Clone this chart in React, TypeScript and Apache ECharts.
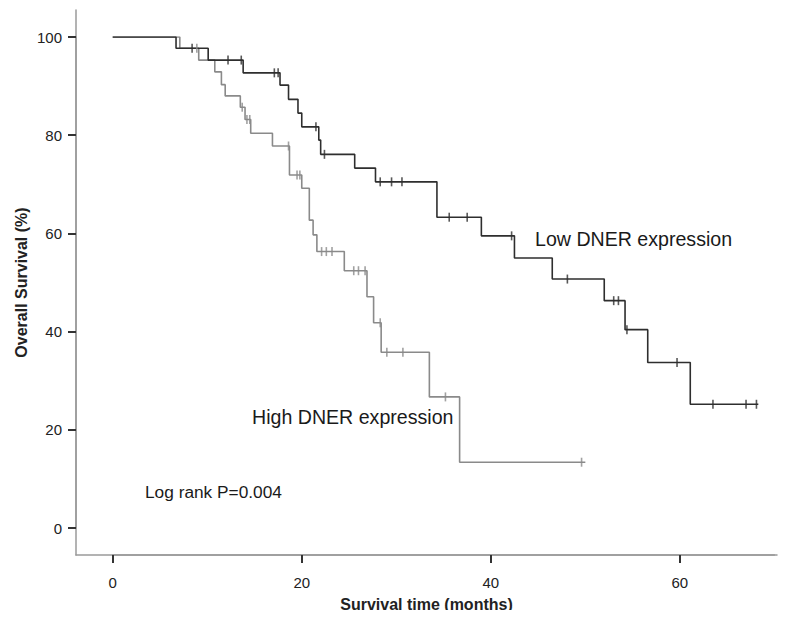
import React, { useEffect, useRef } from "react";
import * as echarts from "echarts";

// Kaplan-Meier step points [months, survival %]
const lowCurve: [number, number][] = [
  [0, 100], [6.7, 97.7], [10.1, 95.3], [13.8, 92.7], [17.7, 90.2], [18.6, 87.3],
  [19.6, 84.5], [20.0, 81.7], [21.8, 79.0], [22.0, 76.1], [25.6, 73.3], [27.8, 70.5],
  [34.3, 63.3], [39.0, 59.5], [42.5, 55.0], [46.5, 50.7], [52.0, 46.3], [54.2, 40.4],
  [56.6, 33.7], [61.1, 25.2], [68.3, 25.2],
];
const lowCensored: [number, number][] = [
  [8.4, 97.7], [12.2, 95.3], [13.6, 95.3], [17.1, 92.7], [17.5, 92.7], [21.5, 81.7],
  [22.4, 76.1], [28.3, 70.5], [29.5, 70.5], [30.6, 70.5], [35.6, 63.3], [37.5, 63.3],
  [42.2, 59.5], [48.1, 50.7], [53.0, 46.3], [53.5, 46.3], [54.4, 40.4], [59.7, 33.7],
  [63.5, 25.2], [67.0, 25.2], [68.1, 25.2],
];
const highCurve: [number, number][] = [
  [0, 100], [7.1, 97.7], [9.1, 95.3], [10.8, 92.9], [11.5, 90.3], [11.9, 88.0],
  [13.5, 85.7], [14.0, 83.2], [14.6, 80.4], [16.9, 77.8], [18.7, 71.9], [20.0, 69.2],
  [20.8, 62.7], [21.2, 59.7], [21.6, 56.3], [24.5, 52.4], [26.9, 47.1], [27.6, 41.8],
  [28.4, 35.8], [33.5, 26.7], [36.7, 13.4], [50.0, 13.4],
];
const highCensored: [number, number][] = [
  [8.9, 97.7], [13.7, 85.7], [14.2, 83.2], [14.5, 83.2], [18.6, 77.8], [19.5, 71.9],
  [19.8, 71.9], [22.1, 56.3], [22.6, 56.3], [23.2, 56.3], [25.5, 52.4], [26.0, 52.4],
  [26.7, 52.4], [28.3, 41.8], [29.0, 35.8], [30.7, 35.8], [35.2, 26.7], [49.6, 13.4],
];
// tick layout: x ticks every 20 months, y ticks every 20 %
const xTickStep = 20;
const xScaleMax = 70;
const yTickStep = 20;
const yScaleMax = 100;

const FONT = "'Liberation Sans', Arial, Helvetica, sans-serif";
const DARK = "#2e2e2e";
const GRAY = "#8a8a8a";
const AXIS_GRAY = "#9a9a9a";

export default function App() {
  const ref = useRef<HTMLDivElement>(null);
  useEffect(() => {
    if (!ref.current) return;
    const chart = echarts.init(ref.current, null, { renderer: "svg" });
    const frameLine = () => ({ show: true, onZero: false, lineStyle: { color: AXIS_GRAY, width: 1.5 } });
    const labelStyle = () => ({ color: "#222", fontSize: 15, fontFamily: FONT });
    const nameStyle = () => ({ fontSize: 16, fontWeight: "bold", color: "#222", fontFamily: FONT });
    chart.setOption({
      animation: false,
      backgroundColor: "#ffffff",
      grid: [
        // frame grid: the L-shaped axis lines
        { left: 76, right: 32, top: 10, bottom: 63 },
        // data grid: 0..70 months, 0..100 %
        { left: 112.7, right: 34.6, top: 37, bottom: 90 },
      ],
      xAxis: [
        {
          gridIndex: 0,
          type: "value",
          min: 0,
          max: 1,
          axisLine: frameLine(),
          axisTick: { show: false },
          axisLabel: { show: false },
          splitLine: { show: false },
          name: "Survival time (months)",
          nameLocation: "middle",
          nameGap: 41,
          nameTextStyle: nameStyle(),
        },
        {
          gridIndex: 1,
          type: "value",
          min: 0,
          max: xScaleMax,
          interval: xTickStep,
          offset: 27,
          axisLine: { show: true, onZero: false, lineStyle: { color: AXIS_GRAY, width: 1.5 } },
          axisTick: { show: true, length: 8, lineStyle: { color: "#333", width: 2 } },
          axisLabel: { ...labelStyle(), margin: 20, showMaxLabel: false },
          splitLine: { show: true, lineStyle: { color: "rgba(0,0,0,0)" } },
        },
      ],
      yAxis: [
        {
          gridIndex: 0,
          type: "value",
          min: 0,
          max: 1,
          axisLine: frameLine(),
          axisTick: { show: false },
          axisLabel: { show: false },
          splitLine: { show: false },
          name: "Overall Survival (%)",
          nameLocation: "middle",
          nameGap: 47,
          nameTextStyle: nameStyle(),
        },
        {
          gridIndex: 1,
          type: "value",
          min: 0,
          max: yScaleMax,
          interval: yTickStep,
          offset: 36.7,
          axisLine: { show: true, onZero: false, lineStyle: { color: AXIS_GRAY, width: 1.5 } },
          axisTick: { show: true, length: 8, lineStyle: { color: "#333", width: 2 } },
          axisLabel: { ...labelStyle(), margin: 14 },
          splitLine: { show: false },
        },
      ],
      series: [
        {
          name: "Low DNER expression",
          type: "line",
          xAxisIndex: 1,
          yAxisIndex: 1,
          step: "end",
          data: lowCurve,
          showSymbol: false,
          lineStyle: { color: DARK, width: 1.6 },
          z: 3,
        },
        {
          name: "High DNER expression",
          type: "line",
          xAxisIndex: 1,
          yAxisIndex: 1,
          step: "end",
          data: highCurve,
          showSymbol: false,
          lineStyle: { color: GRAY, width: 1.6 },
          z: 2,
        },
        {
          name: "Low censored",
          type: "scatter",
          xAxisIndex: 1,
          yAxisIndex: 1,
          data: lowCensored,
          symbol: "rect",
          symbolSize: [1.6, 9],
          itemStyle: { color: DARK },
          z: 4,
        },
        {
          name: "High censored",
          type: "scatter",
          xAxisIndex: 1,
          yAxisIndex: 1,
          data: highCensored,
          symbol: "rect",
          symbolSize: [1.6, 9],
          itemStyle: { color: GRAY },
          z: 4,
        },
      ],
      graphic: [
        {
          type: "text",
          left: 535,
          top: 229,
          style: { text: "Low DNER expression", fontSize: 19.6, fontFamily: FONT, fill: "#1a1a1a" },
        },
        {
          type: "text",
          left: 252,
          top: 407,
          style: { text: "High DNER expression", fontSize: 19.6, fontFamily: FONT, fill: "#1a1a1a" },
        },
        {
          type: "text",
          left: 145,
          top: 483,
          style: { text: "Log rank P=0.004", fontSize: 17.3, fontFamily: FONT, fill: "#1a1a1a" },
        },
      ],
    });
    return () => chart.dispose();
  }, []);
  return <div ref={ref} style={{ width: 809, height: 618, margin: -8 }} />;
}
